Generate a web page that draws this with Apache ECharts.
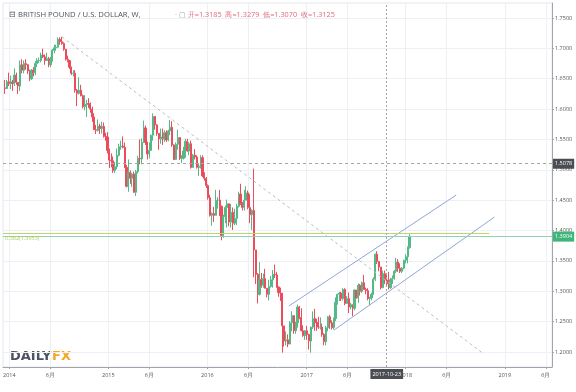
<!DOCTYPE html>
<html><head><meta charset="utf-8">
<script src="https://cdn.jsdelivr.net/npm/echarts@6/dist/echarts.min.js"></script>
<style>html,body{margin:0;padding:0;background:#fff}#c{width:576px;height:392px}</style>
</head><body><div id="c"></div>
<script>
// ---- DATA (weekly candles, rows = [open, close, low, high]) ----
const firstWeek = '2013-12-16';
const w2013 = [
 [1.6350,1.6340,1.6250,1.6480],[1.6340,1.6450,1.6330,1.6480],[1.6450,1.6420,1.6380,1.6600]
];
const w2014 = [
 [1.6420,1.6445,1.6330,1.6550],[1.6445,1.6420,1.6300,1.6480],[1.6420,1.6560,1.6380,1.6670],[1.6560,1.6440,1.6400,1.6600],
 [1.6440,1.6380,1.6250,1.6440],[1.6380,1.6730,1.6300,1.6800],[1.6730,1.6640,1.6590,1.6820],[1.6640,1.6750,1.6590,1.6800],
 [1.6750,1.6730,1.6650,1.6820],[1.6730,1.6630,1.6580,1.6740],[1.6630,1.6500,1.6460,1.6650],[1.6500,1.6640,1.6480,1.6660],[1.6640,1.6600,1.6540,1.6690],
 [1.6600,1.6750,1.6560,1.6790],[1.6750,1.6800,1.6690,1.6840],[1.6800,1.6800,1.6760,1.6850],[1.6800,1.6890,1.6770,1.6930],
 [1.6890,1.6860,1.6840,1.6995],[1.6860,1.6800,1.6730,1.6900],[1.6800,1.6830,1.6790,1.6930],[1.6830,1.6730,1.6690,1.6860],
 [1.6730,1.6800,1.6690,1.6860],[1.6800,1.6970,1.6780,1.6990],[1.6970,1.7010,1.6920,1.7060],[1.7010,1.7020,1.6960,1.7060],[1.7020,1.7150,1.7010,1.7180],
 [1.7150,1.7110,1.7060,1.7180],[1.7110,1.7080,1.7060,1.7190],[1.7080,1.6985,1.6960,1.7100],[1.6985,1.6820,1.6800,1.6990],
 [1.6820,1.6800,1.6770,1.6880],[1.6800,1.6690,1.6660,1.6800],[1.6690,1.6590,1.6560,1.6700],[1.6590,1.6590,1.6540,1.6640],
 [1.6590,1.6310,1.6270,1.6640],[1.6310,1.6260,1.6050,1.6330],[1.6260,1.6310,1.6240,1.6525],[1.6310,1.6220,1.6210,1.6400],[1.6220,1.6040,1.6010,1.6240],
 [1.6040,1.6080,1.5980,1.6230],[1.6080,1.6090,1.5870,1.6150],[1.6090,1.6080,1.6020,1.6180],[1.6080,1.6000,1.5940,1.6110],
 [1.6000,1.5870,1.5790,1.6040],[1.5870,1.5660,1.5660,1.5930],[1.5660,1.5650,1.5590,1.5740],[1.5650,1.5720,1.5630,1.5830],
 [1.5720,1.5680,1.5590,1.5760],[1.5680,1.5715,1.5600,1.5790],[1.5715,1.5550,1.5530,1.5780],[1.5550,1.5540,1.5480,1.5610],[1.5540,1.5320,1.5270,1.5620]
];
const w2015 = [
 [1.5320,1.5160,1.5030,1.5350],[1.5160,1.5150,1.5040,1.5270],[1.5150,1.4990,1.4950,1.5220],[1.4990,1.5050,1.4950,1.5130],
 [1.5050,1.5240,1.5010,1.5350],[1.5240,1.5380,1.5220,1.5430],[1.5380,1.5390,1.5330,1.5480],[1.5390,1.5370,1.5350,1.5550],
 [1.5370,1.5040,1.5030,1.5450],[1.5040,1.4730,1.4710,1.5080],[1.4730,1.4960,1.4640,1.5170],[1.4960,1.4860,1.4770,1.4990],[1.4860,1.4930,1.4720,1.4950],
 [1.4930,1.4630,1.4620,1.4970],[1.4630,1.4970,1.4570,1.5000],[1.4970,1.5190,1.4940,1.5230],[1.5190,1.5180,1.5090,1.5500],
 [1.5180,1.5450,1.5090,1.5520],[1.5450,1.5690,1.5440,1.5810],[1.5690,1.5460,1.5410,1.5730],[1.5460,1.5260,1.5170,1.5460],
 [1.5260,1.5320,1.5190,1.5450],[1.5320,1.5570,1.5320,1.5580],[1.5570,1.5880,1.5480,1.5930],[1.5880,1.5740,1.5660,1.5880],[1.5740,1.5600,1.5560,1.5750],
 [1.5600,1.5510,1.5330,1.5590],[1.5510,1.5540,1.5430,1.5680],[1.5540,1.5510,1.5410,1.5680],[1.5510,1.5610,1.5460,1.5650],
 [1.5610,1.5490,1.5460,1.5650],[1.5490,1.5640,1.5470,1.5660],[1.5640,1.5700,1.5570,1.5820],[1.5700,1.5410,1.5380,1.5800],[1.5410,1.5170,1.5160,1.5420],
 [1.5170,1.5420,1.5160,1.5450],[1.5420,1.5530,1.5330,1.5660],[1.5530,1.5190,1.5160,1.5540],[1.5190,1.5190,1.5110,1.5240],
 [1.5190,1.5310,1.5170,1.5380],[1.5310,1.5470,1.5200,1.5510],[1.5470,1.5310,1.5300,1.5510],[1.5310,1.5430,1.5240,1.5460],
 [1.5430,1.5040,1.5020,1.5480],[1.5040,1.5240,1.5040,1.5260],[1.5240,1.5210,1.5170,1.5340],[1.5210,1.5040,1.5020,1.5240],[1.5040,1.5060,1.4900,1.5110],
 [1.5060,1.5200,1.5020,1.5240],[1.5200,1.4900,1.4880,1.5240],[1.4900,1.4860,1.4820,1.4960],[1.4860,1.4740,1.4700,1.4880]
];
const w2016 = [
 [1.4740,1.4540,1.4510,1.4760],[1.4540,1.4250,1.4230,1.4590],[1.4250,1.4280,1.4080,1.4300],[1.4280,1.4250,1.4140,1.4390],
 [1.4250,1.4500,1.4250,1.4670],[1.4500,1.4500,1.4360,1.4550],[1.4500,1.4400,1.4240,1.4670],[1.4400,1.3920,1.3840,1.4410],[1.3920,1.4230,1.3880,1.4260],
 [1.4230,1.4380,1.4120,1.4410],[1.4380,1.4440,1.4050,1.4510],[1.4440,1.4140,1.4070,1.4300],[1.4140,1.4300,1.4050,1.4440],
 [1.4300,1.4120,1.4010,1.4380],[1.4120,1.4200,1.4090,1.4360],[1.4200,1.4400,1.4090,1.4440],[1.4400,1.4600,1.4380,1.4640],
 [1.4600,1.4440,1.4420,1.4770],[1.4440,1.4380,1.4330,1.4470],[1.4380,1.4500,1.4330,1.4670],[1.4500,1.4620,1.4500,1.4730],[1.4620,1.4380,1.4350,1.4660],
 [1.4380,1.4260,1.4120,1.4600],[1.4260,1.4330,1.4010,1.4350],[1.4330,1.3680,1.3230,1.5020],[1.3680,1.3280,1.3120,1.3540],
 [1.3280,1.2950,1.2800,1.3300],[1.2950,1.3190,1.2930,1.3480],[1.3190,1.3100,1.3060,1.3300],[1.3100,1.3210,1.3060,1.3290],
 [1.3210,1.3050,1.3050,1.3370],[1.3050,1.2950,1.2900,1.3050],[1.2950,1.3080,1.2850,1.3190],[1.3080,1.3190,1.3060,1.3250],[1.3190,1.3280,1.3060,1.3350],
 [1.3280,1.3270,1.3220,1.3440],[1.3270,1.3070,1.3060,1.3320],[1.3070,1.2980,1.2910,1.3080],[1.2980,1.2970,1.2840,1.3060],
 [1.2970,1.2430,1.1990,1.2970],[1.2430,1.2180,1.2090,1.2400],[1.2180,1.2200,1.2110,1.2340],[1.2200,1.2130,1.2080,1.2290],[1.2130,1.2480,1.2130,1.2510],
 [1.2480,1.2600,1.2340,1.2670],[1.2600,1.2350,1.2300,1.2600],[1.2350,1.2480,1.2300,1.2500],[1.2480,1.2740,1.2400,1.2780],
 [1.2740,1.2570,1.2540,1.2760],[1.2570,1.2350,1.2340,1.2720],[1.2350,1.2270,1.2250,1.2440],[1.2270,1.2350,1.2200,1.2360]
];
const w2017 = [
 [1.2350,1.2290,1.2200,1.2430],[1.2290,1.2180,1.2040,1.2300],[1.2180,1.2410,1.1990,1.2420],[1.2410,1.2550,1.2380,1.2670],[1.2550,1.2490,1.2350,1.2710],
 [1.2490,1.2480,1.2350,1.2550],[1.2480,1.2410,1.2380,1.2580],[1.2410,1.2410,1.2370,1.2570],[1.2410,1.2290,1.2250,1.2470],
 [1.2290,1.2170,1.2110,1.2310],[1.2170,1.2400,1.2110,1.2430],[1.2400,1.2580,1.2340,1.2590],[1.2580,1.2480,1.2380,1.2610],
 [1.2480,1.2400,1.2370,1.2520],[1.2400,1.2550,1.2370,1.2570],[1.2550,1.2820,1.2510,1.2900],[1.2820,1.2950,1.2780,1.2960],
 [1.2950,1.2970,1.2840,1.2990],[1.2970,1.2880,1.2840,1.2990],[1.2880,1.3030,1.2850,1.3050],[1.3030,1.2800,1.2770,1.3050],[1.2800,1.2880,1.2820,1.2920],
 [1.2880,1.2740,1.2640,1.2980],[1.2740,1.2780,1.2700,1.2810],[1.2780,1.2720,1.2590,1.2780],[1.2720,1.3020,1.2690,1.3030],
 [1.3020,1.2890,1.2880,1.3020],[1.2890,1.3100,1.2810,1.3130],[1.3100,1.3000,1.2930,1.3120],[1.3000,1.3140,1.2970,1.3160],[1.3140,1.3030,1.3030,1.3270],
 [1.3030,1.3010,1.2950,1.3060],[1.3010,1.2880,1.2850,1.3050],[1.2880,1.2890,1.2770,1.2910],[1.2890,1.2950,1.2850,1.2980],
 [1.2950,1.3200,1.2940,1.3230],[1.3200,1.3610,1.3170,1.3620],[1.3610,1.3490,1.3450,1.3660],[1.3490,1.3400,1.3330,1.3480],
 [1.3400,1.3060,1.3030,1.3400],[1.3060,1.3290,1.3050,1.3340],[1.3290,1.3190,1.3120,1.3340],[1.3185,1.3125,1.3070,1.3279],[1.3125,1.3060,1.3030,1.3320],
 [1.3060,1.3190,1.3040,1.3220],[1.3190,1.3210,1.3120,1.3260],[1.3210,1.3330,1.3190,1.3350],[1.3330,1.3480,1.3300,1.3550],
 [1.3480,1.3380,1.3320,1.3530],[1.3380,1.3330,1.3300,1.3460],[1.3330,1.3380,1.3300,1.3400],[1.3380,1.3510,1.3360,1.3520]
];
const w2018 = [
 [1.3510,1.3570,1.3460,1.3610],[1.3570,1.3720,1.3460,1.3740],[1.3720,1.3904,1.3700,1.3940]
];
const yTickValues = [1.20,1.25,1.30,1.35,1.40,1.45,1.50,1.55,1.60,1.65,1.70,1.75];
const xTickDates = ['2014-01-01','2014-06-01','2015-01-01','2015-06-01','2016-01-01','2016-06-01',
                    '2017-01-01','2017-06-01','2018-01-01','2018-06-01','2019-01-01','2019-06-01'];
const xRange = ['2013-12-09','2019-06-24'];
const yRange = [1.1753, 1.7747];
const lastPrice = 1.3904;
const fibLevel = 1.3953;
const fibText = '0.382(1.3953)';
const fibEnd = '2018-11-05';
const crossDate = '2017-10-23';
const crossPrice = 1.5078;
const trendLine = [['2014-07-14',1.7190],['2018-10-12',1.1980]];
const channelUpper = [['2016-10-27',1.2757],['2018-07-06',1.4585]];
const channelLower = [['2017-04-12',1.2362],['2018-11-24',1.4223]];
const title = '⊟ BRITISH POUND / U.S. DOLLAR, W,';

// ---- BUILD ----
const T = s => Date.parse(s);
const rows = [].concat(w2013, w2014, w2015, w2016, w2017, w2018);
const WEEK = 7 * 86400000;
const t0 = T(firstWeek);
const candles = rows.map((r, i) => [t0 + i * WEEK, r[0], r[1], r[2], r[3]]);
const crossX = T(crossDate);
const crossRow = candles.find(c => c[0] === crossX) || candles[candles.length - 1];
const f4 = v => v.toFixed(4);
const ohlcText = '{g|· ▢ }{r|开=' + f4(crossRow[1]) + '  高=' + f4(crossRow[4]) + '  低=' + f4(crossRow[3]) + '  收=' + f4(crossRow[2]) + '}';
const xTicks = xTickDates.map(T);
const mapPts = arr => arr.map(p => [T(p[0]), p[1]]);
const FONT = 'Open Sans';

const chart = echarts.init(document.getElementById('c'));
chart.setOption({
  animation: false,
  textStyle: { fontFamily: FONT },
  title: [
    { text: title, left: 4, top: 6, textStyle: { fontSize: 7.7, fontWeight: 'normal', color: '#4c525e', fontFamily: FONT } },
    { text: ohlcText, left: 170, top: 6, textStyle: { fontSize: 7.3, fontWeight: 'normal', fontFamily: FONT,
        rich: { g: { color: '#9ea3ad', fontSize: 7.3, fontFamily: FONT }, r: { color: '#e06a78', fontSize: 7.3, fontFamily: FONT } } } }
  ],
  grid: { left: 3, right: 24, top: 3, bottom: 25, show: true, borderColor: '#e3e6ec', borderWidth: 1 },
  xAxis: {
    type: 'value', min: T(xRange[0]), max: T(xRange[1]),
    axisLine: { show: true, lineStyle: { color: '#a0a4ab' } },
    axisTick: { show: true, customValues: xTicks, length: 2, lineStyle: { color: '#a0a4ab' } },
    axisLabel: { customValues: xTicks, fontSize: 5.5, color: '#555', margin: 5,
      formatter: v => { const d = new Date(v); return d.getUTCMonth() === 0 ? String(d.getUTCFullYear()) : '6月'; } },
    splitLine: { show: true, lineStyle: { color: '#eef0f3', width: 1 } }
  },
  yAxis: {
    type: 'value', position: 'right', min: yRange[0], max: yRange[1],
    axisLine: { show: true, lineStyle: { color: '#a0a4ab' } },
    axisTick: { show: true, customValues: yTickValues, length: 2, lineStyle: { color: '#a0a4ab' } },
    axisLabel: { customValues: yTickValues, fontSize: 5.5, color: '#555', margin: 3, formatter: v => v.toFixed(4) },
    splitLine: { show: true, lineStyle: { color: '#eef0f3', width: 1 } }
  },
  series: [
    {
      type: 'candlestick', data: candles, barWidth: 1.6, encode: { x: 0, y: [1, 2, 3, 4] },
      itemStyle: { color: '#53b987', color0: '#eb4d5c', borderColor: '#53b987', borderColor0: '#eb4d5c', borderWidth: 1 },
      markLine: {
        silent: true, symbol: 'none', animation: false,
        data: [
          { yAxis: lastPrice, lineStyle: { color: '#8fd3b3', width: 1, type: 'solid' },
            label: { show: true, position: 'end', distance: 1, formatter: f4(lastPrice), backgroundColor: '#3fb57a', color: '#fff', fontSize: 5.5, padding: [2, 2] } },
          [ { coord: [T(xRange[0]), fibLevel], lineStyle: { color: '#bcd66c', width: 1, type: 'solid' },
              label: { show: true, position: 'insideStartBottom', distance: 2, formatter: fibText, color: '#b3cc55', fontSize: 5.5 } },
            { coord: [T(fibEnd), fibLevel] } ],
          { yAxis: crossPrice, lineStyle: { color: '#a5a5a5', width: 1, type: [3, 3] },
            label: { show: true, position: 'end', distance: 1, formatter: f4(crossPrice), backgroundColor: '#4a4d52', color: '#fff', fontSize: 5.5, padding: [2, 2] } },
          { xAxis: crossX, lineStyle: { color: '#a5a5a5', width: 1, type: [2, 2] },
            label: { show: true, position: 'start', distance: 2, formatter: crossDate, backgroundColor: '#4a4d52', color: '#fff', fontSize: 5.5, padding: [2, 2] } }
        ]
      }
    },
    { type: 'line', data: mapPts(trendLine), symbol: 'none', silent: true,
      lineStyle: { color: '#bdbdbd', width: 1, type: [3, 3] } },
    { type: 'line', data: mapPts(channelUpper), symbol: 'none', silent: true,
      lineStyle: { color: '#8fa6d6', width: 1 } },
    { type: 'line', data: mapPts(channelLower), symbol: 'none', silent: true,
      lineStyle: { color: '#8fa6d6', width: 1 } }
  ],
  graphic: [
    { type: 'text', left: 10, top: 350, style: { text: 'DAILY', fill: '#4d5360', font: 'bold 13px "DejaVu Sans"' } },
    { type: 'text', left: 52, top: 350, style: { text: 'FX', fill: '#f5a623', font: 'bold 13px "DejaVu Sans"' } }
  ]
});
</script></body></html>
